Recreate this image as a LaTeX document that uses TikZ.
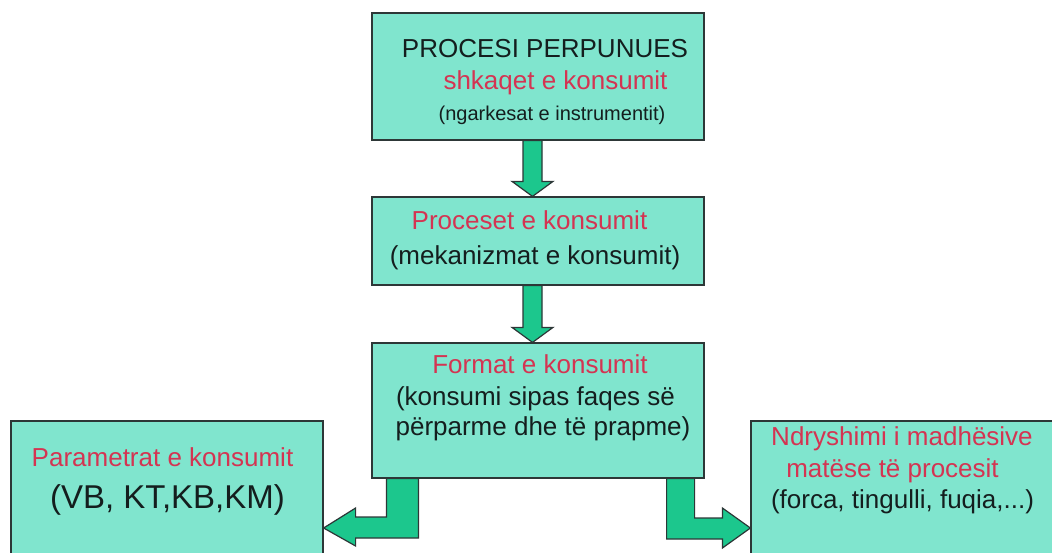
\documentclass[tikz,border=0pt]{standalone}
\usepackage{fontspec}
\setmainfont{Liberation Sans}
\usetikzlibrary{calc}
\definecolor{boxteal}{RGB}{128,229,206}
\definecolor{arrowgreen}{RGB}{28,199,141}
\definecolor{labelred}{RGB}{212,52,82}
\definecolor{edgegray}{RGB}{45,55,55}
\definecolor{textblack}{RGB}{20,30,30}

\begin{document}
\begin{tikzpicture}[x=1pt, y=-1pt,
  stage_box/.style={rectangle, draw=edgegray, fill=boxteal, line width=1.2pt, inner sep=0pt},
  fat_arrow/.style={draw=edgegray, fill=arrowgreen, line width=1.2pt, line join=miter},
  label_base/.style={inner sep=0pt, anchor=base, font=\fontsize{26}{30}\selectfont},
  red_label/.style={label_base, text=labelred},
  black_label/.style={label_base, text=textblack}
]
\useasboundingbox (0,0) rectangle (1052,552);
\clip (0,0) rectangle (1052,552);

% --- Stage boxes ---
\node[stage_box, minimum width=332pt, minimum height=127pt] (proc) at (538,76.5) {};
\node[stage_box, minimum width=332pt, minimum height=88pt] (mech) at (538,241) {};
\node[stage_box, minimum width=332pt, minimum height=135pt] (form) at (538,410.5) {};
\node[stage_box, minimum width=312pt, minimum height=150pt] (param) at (167,496) {};
\node[stage_box, minimum width=320pt, minimum height=150pt] (meas) at (911,496) {};

% --- Straight arrows down the chain ---
\foreach \from/\to in {proc/mech, mech/form} {
  \draw[fat_arrow] ($(\from.south)+(-15,0)$) -- ($(\from.south)+(4,0)$)
    -- ($(\to.north)+(4,-15)$) -- ($(\to.north)+(15,-15)$) -- ($(\to.north)+(-5.5,0)$)
    -- ($(\to.north)+(-26,-15)$) -- ($(\to.north)+(-15,-15)$) -- cycle;
}

% --- Bent arrows to the two outcomes ---
\coordinate (ls) at ([xshift=15pt]form.south west);
\coordinate (ltip) at (param.east |- 0,528);
\draw[fat_arrow] (ls) -- ++(32,0) |- ($(ltip)+(32,10)$) -- ++(0,8) -- (ltip)
  -- ++(32,-20) -- ++(0,9) -| (ls) -- cycle;

\coordinate (rs) at ([xshift=-38pt]form.south east);
\coordinate (rtip) at (meas.west |- 0,528);
\draw[fat_arrow] (rs) -- ++(28,0) |- ($(rtip)+(-28,-10)$) -- ++(0,-10) -- (rtip)
  -- ++(-28,20) -- ++(0,-9) -| (rs) -- cycle;

% --- Labels ---
\node[black_label] (proc_title) at (545,57) {PROCESI PERPUNUES};
\node[red_label] (proc_cause) at (555.5,89) {shkaqet e konsumit};
\node[black_label, font=\fontsize{20}{24}\selectfont] (proc_load) at (552,120) {(ngarkesat e instrumentit)};

\node[red_label] (mech_title) at (529.5,229) {Proceset e konsumit};
\node[black_label] (mech_text) at (535,264) {(mekanizmat e konsumit)};

\node[red_label] (form_title) at (540,373) {Format e konsumit};
\node[black_label] (form_text1) at (535.5,405) {(konsumi sipas faqes së};
\node[black_label] (form_text2) at (543,435) {përparme dhe të prapme)};

\node[red_label] (param_title) at (162.5,466) {Parametrat e konsumit};
\node[black_label, font=\fontsize{33}{38}\selectfont] (param_text) at (167.5,508) {(VB, KT,KB,KM)};

\node[red_label] (meas_title1) at (902,445) {Ndryshimi i madhësive};
\node[red_label] (meas_title2) at (892.5,477) {matëse të procesit};
\node[black_label] (meas_text) at (902.5,508) {(forca, tingulli, fuqia,...)};

\end{tikzpicture}
\end{document}
